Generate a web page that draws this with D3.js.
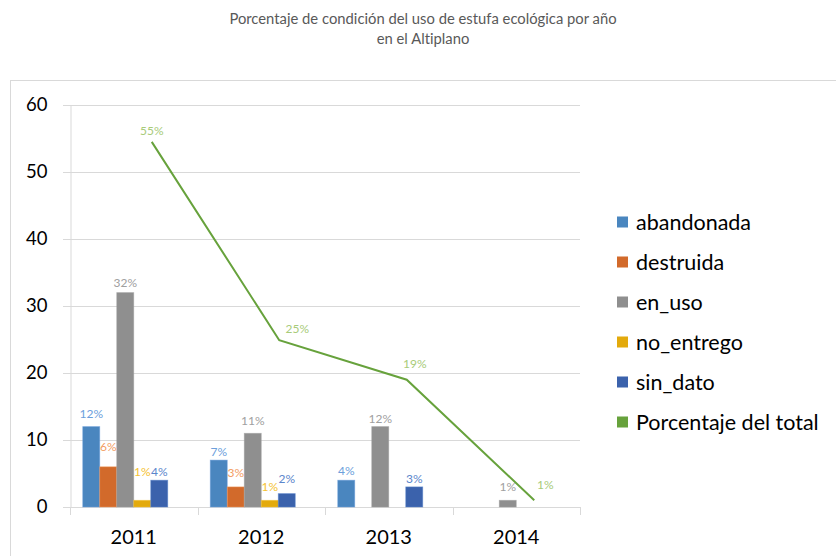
<!DOCTYPE html>
<html>
<head>
<meta charset="utf-8">
<script src="https://cdn.jsdelivr.net/npm/d3@7"></script>
<style>
  html, body { margin: 0; padding: 0; background: #fff; }
  svg { display: block; font-family: Lato, "Open Sans", sans-serif; font-variant-ligatures: none; }
</style>
</head>
<body>
<svg id="chart" width="836" height="556"></svg>
<script>
// ---- data ----
const years = ["2011", "2012", "2013", "2014"];
const seriesNames = ["abandonada", "destruida", "en_uso", "no_entrego", "sin_dato"];
const abandonada = [12, 7, 4, null];
const destruida  = [6, 3, null, null];
const en_uso     = [32, 11, 12, 1];
const no_entrego = [1, 1, null, null];
const sin_dato   = [4, 2, 3, null];
const porcentajeTotal = [54.5, 24.9, 19, 1];
const lineName = "Porcentaje del total";
const yTicks = [0, 10, 20, 30, 40, 50, 60];
const titleLines = ["Porcentaje de condición del uso de estufa ecológica por año", "en el Altiplano"];

// ---- styles ----
const barColors   = ["#4a86bf", "#d26a2b", "#8f8f8f", "#e3aa0c", "#3b62ac"];
const labelColors = ["#6d9fdc", "#f39d63", "#a0a0a0", "#f5c232", "#5b86cc"];
const lineColor = "#67a23c", lineLabelColor = "#a8cb79";
// per-label vertical nudges (px above bar top), Excel auto placement
const barLabelLift = [
  [13, 8, 9, 0],
  [20, 14, 0, 0],
  [10, 12, 8, 13],
  [28, 13, 0, 0],
  [8, 15, 8, 0]
];
const lineLabelOffset = [[0, -11], [18, -11], [8, -16], [11, -15]];

const seriesValues = [abandonada, destruida, en_uso, no_entrego, sin_dato];

const svg = d3.select("#chart");

// outer chart border
svg.append("rect").attr("x", 10.5).attr("y", 80.5).attr("width", 900).attr("height", 600)
  .attr("fill", "none").attr("stroke", "#d9d9d9");

// title
svg.append("g").selectAll("text").data(titleLines).join("text")
  .attr("x", 423).attr("y", (d, i) => 24 + i * 20)
  .attr("text-anchor", "middle").attr("font-size", 14.8).attr("fill", "#595959")
  .text(d => d);

const plotLeft = 70, plotRight = 580, plotTop = 105, plotBottom = 507;
const x = d3.scaleBand().domain(years).range([plotLeft, plotRight]).padding(0);
const slots = seriesNames.concat(["_line"]);
const x1 = d3.scaleBand().domain(slots).range([0, x.bandwidth()]).paddingInner(0).paddingOuter(0.75);
const y = d3.scaleLinear().domain([0, 60]).range([plotBottom, plotTop]);

// gridlines
svg.append("g").selectAll("line").data(yTicks).join("line")
  .attr("x1", plotLeft - 7).attr("x2", plotRight)
  .attr("y1", d => Math.round(y(d)) + 0.5).attr("y2", d => Math.round(y(d)) + 0.5)
  .attr("stroke", "#d9d9d9").attr("stroke-width", 1);

// y axis
const yAxis = svg.append("g").attr("transform", `translate(${plotLeft + 0.5},0)`)
  .call(d3.axisLeft(y).tickValues(yTicks).tickSize(7).tickPadding(16).tickFormat(d3.format("d")));
yAxis.select(".domain").attr("stroke", "#d9d9d9");
yAxis.selectAll(".tick line").attr("stroke", "#d9d9d9");
yAxis.selectAll("text").attr("font-size", 18.5).attr("fill", "#000").attr("font-family", "Lato, sans-serif");

// x axis ticks at band boundaries
const boundaries = years.map(d => x(d)).concat([x(years[years.length - 1]) + x.bandwidth()]);
svg.append("g").selectAll("line").data(boundaries).join("line")
  .attr("x1", d => Math.round(d) + 0.5).attr("x2", d => Math.round(d) + 0.5)
  .attr("y1", plotBottom).attr("y2", plotBottom + 8)
  .attr("stroke", "#d9d9d9");
const xAxis = svg.append("g").attr("transform", `translate(0,${plotBottom})`)
  .call(d3.axisBottom(x).tickSize(0).tickPadding(23));
xAxis.select(".domain").remove();
xAxis.selectAll("text").attr("font-size", 20).attr("fill", "#000").attr("font-family", "Lato, sans-serif");

// bars
const bars = [];
seriesValues.forEach((vals, si) => {
  vals.forEach((v, yi) => {
    if (v !== null) bars.push({ si, yi, v, year: years[yi], name: seriesNames[si] });
  });
});
svg.append("g").selectAll("rect").data(bars).join("rect")
  .attr("x", d => x(d.year) + x1(d.name))
  .attr("y", d => y(d.v))
  .attr("width", x1.bandwidth())
  .attr("height", d => y(0) - y(d.v))
  .attr("fill", d => barColors[d.si])
  .attr("stroke", d => labelColors[d.si]).attr("stroke-width", 0.8).attr("stroke-opacity", 0.6);

svg.append("g").selectAll("text").data(bars).join("text")
  .attr("x", d => x(d.year) + x1(d.name) + x1.bandwidth() / 2)
  .attr("y", d => y(d.v) - barLabelLift[d.si][d.yi] + 4)
  .attr("text-anchor", "middle").attr("font-size", 12)
  .attr("fill", d => labelColors[d.si])
  .text(d => d3.format(".0f")(d.v) + "%");

// line
const lineShift = 18;
const lx = (d, i) => x(years[i]) + x.bandwidth() / 2 + lineShift;
const linePts = porcentajeTotal.map((v, i) => [lx(v, i), y(v)]);
svg.append("path").datum(linePts)
  .attr("d", d3.line())
  .attr("fill", "none").attr("stroke", lineColor).attr("stroke-width", 2);
svg.append("g").selectAll("text").data(porcentajeTotal).join("text")
  .attr("x", (d, i) => lx(d, i) + lineLabelOffset[i][0])
  .attr("y", (d, i) => y(d) + lineLabelOffset[i][1] + 4)
  .attr("text-anchor", "middle").attr("font-size", 12)
  .attr("fill", lineLabelColor)
  .text(d => d3.format(".0f")(d) + "%");

// legend
const legendItems = seriesNames.map((n, i) => ({ name: n, color: barColors[i] }))
  .concat([{ name: lineName, color: lineColor }]);
const leg = svg.append("g").selectAll("g").data(legendItems).join("g")
  .attr("transform", (d, i) => `translate(617,${222 + i * 40})`);
leg.append("rect").attr("x", 0).attr("y", -5.5).attr("width", 11).attr("height", 11)
  .attr("fill", d => d.color);
leg.append("text").attr("x", 19).attr("y", 0).attr("dy", "0.35em")
  .attr("font-size", 21.5).attr("fill", "#000").text(d => d.name);
</script>
</body>
</html>
